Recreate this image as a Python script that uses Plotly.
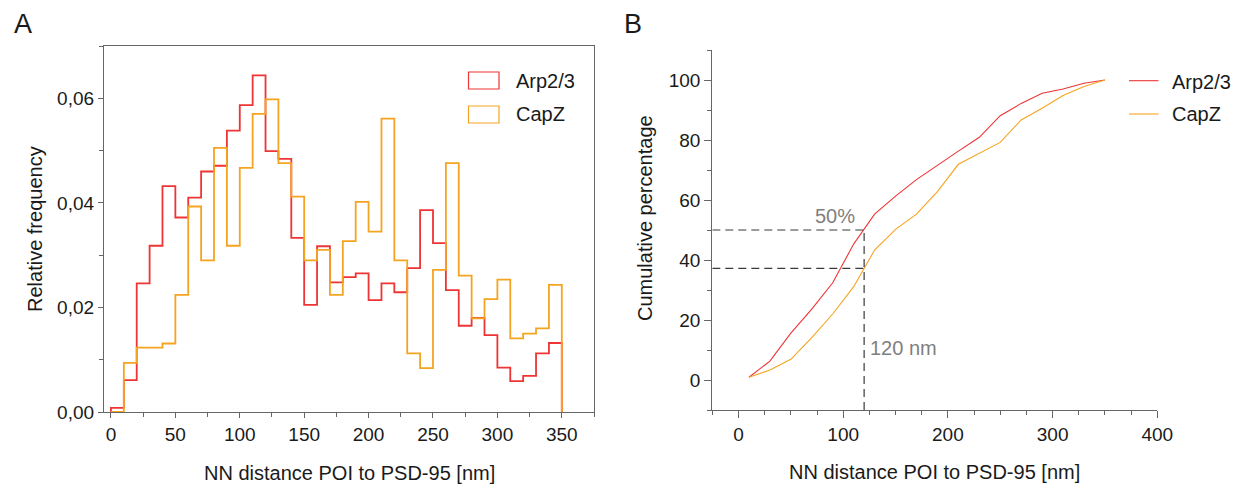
import numpy as np
import plotly.graph_objects as go

W, H = 1239, 486

# ---------------- data ----------------
bin_edges = list(range(0, 360, 10))  # 0..350 nm, 10 nm bins
arp_freq = [0.0008, 0.0061, 0.0246, 0.0318, 0.0432, 0.0372, 0.0410, 0.0460, 0.0471, 0.0538,
            0.0587, 0.0644, 0.0499, 0.0484, 0.0333, 0.0205, 0.0317, 0.0248, 0.0258, 0.0265,
            0.0214, 0.0246, 0.0229, 0.0275, 0.0386, 0.0323, 0.0233, 0.0165, 0.0180, 0.0147,
            0.0085, 0.0059, 0.0069, 0.0112, 0.0132]
capz_freq = [0.0, 0.0094, 0.0123, 0.0123, 0.0131, 0.0224, 0.0393, 0.0290, 0.0505, 0.0318,
             0.0467, 0.0570, 0.0598, 0.0476, 0.0412, 0.0290, 0.0310, 0.0224, 0.0327, 0.0402,
             0.0345, 0.0561, 0.0290, 0.0112, 0.0084, 0.0272, 0.0476, 0.0261, 0.0179, 0.0216,
             0.0253, 0.0141, 0.0150, 0.0160, 0.0243]

cum_x = [10, 30, 50, 70, 90, 110, 130, 150, 170, 190, 210, 230, 250, 270, 290, 310, 330, 350]
arp_cum = [0.9, 6.3, 15.6, 23.6, 32.4, 45.3, 55.3, 61.3, 66.8, 71.7, 76.3, 80.9, 88.1, 92.2,
           95.6, 97.0, 98.9, 100.0]
capz_cum = [0.9, 3.3, 6.9, 14.1, 22.0, 31.1, 43.3, 50.2, 55.3, 62.8, 71.9, 75.6, 79.2, 86.7,
            90.6, 94.8, 97.8, 100.0]

series_names = ["Arp2/3", "CapZ"]
ref_distance = 120   # nm
ref_percent = 50     # %

# ---------------- style ----------------
RED = "#ee3434"
ORANGE = "#f5a421"
FONT = "Liberation Sans, Arial, sans-serif"
AX = "#666666"


def px(x):
    return x / W


def py(y):
    return 1 - y / H


def step_xy(edges, vals):
    xs = [edges[0]] + list(edges[:-1]) + [edges[-1]]
    ys = [0] + list(vals) + [0]
    return xs, ys


fig = go.Figure()

# Panel A: step histograms
for vals, col in [(arp_freq, RED), (capz_freq, ORANGE)]:
    xs, ys = step_xy(bin_edges, vals)
    fig.add_trace(go.Scatter(x=xs, y=ys, mode="lines", line=dict(color=col, width=1.8, shape="hv"),
                             xaxis="x", yaxis="y", showlegend=False, hoverinfo="skip"))

# Panel B: cumulative curves
for vals, col in [(arp_cum, RED), (capz_cum, ORANGE)]:
    fig.add_trace(go.Scatter(x=cum_x, y=vals, mode="lines", line=dict(color=col, width=1.1),
                             xaxis="x2", yaxis="y2", showlegend=False, hoverinfo="skip"))

capz_at_ref = float(np.interp(ref_distance, cum_x, capz_cum))

shapes = []
dash = dict(color="#3a3a3a", width=1.2, dash="8px,5px")
shapes.append(dict(type="line", xref="x2", yref="y2", x0=-25, x1=ref_distance,
                   y0=ref_percent, y1=ref_percent, line=dash))
shapes.append(dict(type="line", xref="x2", yref="y2", x0=-25, x1=ref_distance,
                   y0=capz_at_ref, y1=capz_at_ref, line=dash))
shapes.append(dict(type="line", xref="x2", yref="y2", x0=ref_distance, x1=ref_distance,
                   y0=-10, y1=ref_percent, line=dash))

# Legend A (outlined rectangles)
for (y0, y1), col in [((72, 89), RED), ((106, 123), ORANGE)]:
    shapes.append(dict(type="rect", xref="paper", yref="paper", x0=px(468.5), x1=px(499),
                       y0=py(y1), y1=py(y0), line=dict(color=col, width=1.2),
                       fillcolor="rgba(0,0,0,0)"))
# Legend B (lines)
for yy, col in [(80.7, RED), (114, ORANGE)]:
    shapes.append(dict(type="line", xref="paper", yref="paper", x0=px(1129), x1=px(1158.5),
                       y0=py(yy), y1=py(yy), line=dict(color=col, width=1.1)))

ann = []


def text(x, y, s, size=20, color="#1a1a1a", xanchor="center", angle=0, xref="paper", yref="paper"):
    ann.append(dict(x=x, y=y, xref=xref, yref=yref, text=s, showarrow=False,
                    xanchor=xanchor, yanchor="middle", textangle=angle,
                    font=dict(family=FONT, size=size, color=color)))


text(px(22.5), py(24), "A", size=27)
text(px(633), py(24), "B", size=27)
text(px(349), py(473), "NN distance POI to PSD-95 [nm]")
text(px(934), py(472), "NN distance POI to PSD-95 [nm]")
text(px(35), py(229), "Relative frequency", angle=-90)
text(px(645), py(218), "Cumulative percentage", angle=-90)
text(px(514), py(80.5), series_names[0], xanchor="left")
text(px(514), py(114), series_names[1], xanchor="left")
text(px(1170), py(81.5), series_names[0], xanchor="left")
text(px(1170), py(114), series_names[1], xanchor="left")
text(92.3, 54.8, f"{ref_percent}%", color="#7f7f7f", xref="x2", yref="y2")
text(158, 10.7, f"{ref_distance} nm", color="#7f7f7f", xref="x2", yref="y2")

tickfont = dict(family=FONT, size=19, color="#1a1a1a")
common = dict(showgrid=False, zeroline=False, showline=True, linecolor=AX, linewidth=1.2,
              ticks="outside", tickcolor=AX, tickwidth=1, tickfont=tickfont, automargin=False)

fig.update_layout(
    template="none",
    width=W, height=H,
    margin=dict(l=0, r=0, t=0, b=0, pad=0, autoexpand=False),
    paper_bgcolor="white", plot_bgcolor="white",
    separators=",.",
    showlegend=False,
    xaxis=dict(domain=[px(104), px(594)], range=[-5.4, 375], anchor="y", mirror=True,
               tickmode="linear", tick0=0, dtick=50, ticklen=5,
               minor=dict(dtick=25, tick0=0, ticklen=4, ticks="outside", tickcolor=AX),
               **common),
    yaxis=dict(domain=[py(412), py(46)], range=[0, 0.07], anchor="x", mirror=True,
               tickmode="linear", tick0=0, dtick=0.02, tickformat=".2f", ticklen=5,
               minor=dict(dtick=0.01, tick0=0, ticklen=4, ticks="outside", tickcolor=AX),
               **common),
    xaxis2=dict(domain=[px(712.3), px(1157.3)], range=[-25, 400], anchor="y2",
                tickmode="linear", tick0=0, dtick=100, ticklen=7,
                minor=dict(dtick=25, tick0=0, ticklen=4, ticks="outside", tickcolor=AX),
                **common),
    yaxis2=dict(domain=[py(410), py(50)], range=[-10, 110], anchor="x2",
                tickmode="linear", tick0=0, dtick=20, ticklen=7,
                minor=dict(dtick=10, tick0=0, ticklen=4, ticks="outside", tickcolor=AX),
                **common),
    shapes=shapes,
    annotations=ann,
)

fig.write_html(
    "out.html",
    config={"displayModeBar": False},
    post_script="document.documentElement.style.margin='0';document.body.style.margin='0';"
                "document.body.style.overflow='hidden';",
)
